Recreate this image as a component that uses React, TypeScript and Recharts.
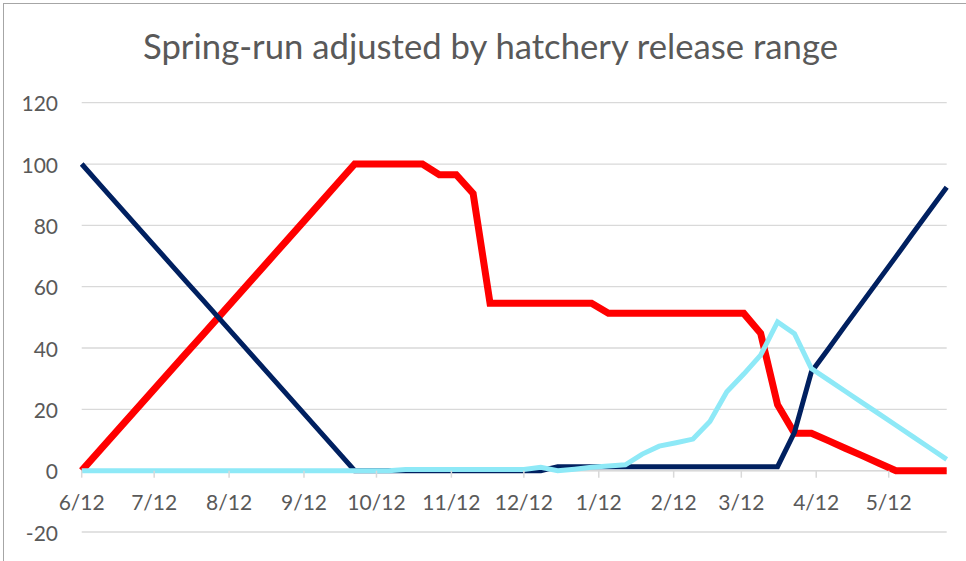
import { CartesianGrid, Line, LineChart, ReferenceLine, XAxis, YAxis } from "recharts";

// days after 6/12 for each weekly point
const DAYS = [
  0, 8, 15, 22, 29, 36, 43, 50, 57, 64, 71, 78, 85, 92, 99, 106, 113, 120, 127,
  134, 141, 148, 155, 162, 169, 176, 183, 190, 197, 204, 211, 218, 225, 232,
  239, 246, 253, 260, 267, 274, 281, 288, 295, 302, 309, 316, 323, 330, 337,
  344, 351, 358,
];

const RED = [
  0, 7.1, 13.3, 19.5, 25.7, 31.9, 38.1, 44.2, 50.4, 56.6, 62.8, 69.0, 75.2,
  81.4, 87.6, 93.8, 100, 100, 100, 100, 100, 96.5, 96.5, 90.4, 54.6, 54.6,
  54.6, 54.6, 54.6, 54.6, 54.6, 51.3, 51.3, 51.3, 51.3, 51.3, 51.3, 51.3, 51.3,
  51.3, 44.8, 21.5, 12.2, 12.2, 9.8, 7.3, 4.9, 2.4, 0, 0, 0, 0,
];

const NAVY = [
  100, 92.9, 86.7, 80.5, 74.3, 68.1, 61.9, 55.8, 49.6, 43.4, 37.2, 31.0, 24.8,
  18.6, 12.4, 6.2, 0, 0, 0, 0, 0, 0, 0, 0, 0, 0, 0, 0, 1.3, 1.3, 1.3, 1.3,
  1.3, 1.3, 1.3, 1.3, 1.3, 1.3, 1.3, 1.3, 1.3, 1.3, 12.5, 32.2, 39.7, 47.3,
  54.8, 62.3, 69.8, 77.4, 84.9, 92.4,
];

const CYAN = [
  0, 0, 0, 0, 0, 0, 0, 0, 0, 0, 0, 0, 0, 0, 0, 0, 0, 0, 0, 0.4, 0.4, 0.4, 0.4,
  0.4, 0.4, 0.4, 0.4, 1.1, 0, 0.5, 1.1, 1.5, 1.9, 5.4, 8.0, 9.1, 10.3, 16,
  25.7, 31.5, 37.7, 48.5, 44.7, 33.3, 29.6, 25.9, 22.2, 18.5, 14.8, 11.1, 7.4,
  3.7,
];

const TICK_DAYS = [0, 30, 61, 92, 122, 153, 183, 214, 245, 273, 304, 334];
const TICK_LABELS = [
  "6/12", "7/12", "8/12", "9/12", "10/12", "11/12",
  "12/12", "1/12", "2/12", "3/12", "4/12", "5/12",
];
const Y_TICKS = [-20, 0, 20, 40, 60, 80, 100, 120];

const TITLE = "Spring-run adjusted by hatchery release range";

const data = DAYS.map((day, i) => ({
  day,
  red: RED[i],
  navy: NAVY[i],
  cyan: CYAN[i],
}));

const W = 966;
const H = 561;
const TOP = 102.7;
const BOTTOM = 532;
const ZERO_Y = TOP + (120 / 140) * (BOTTOM - TOP);
const FONT = "Lato, 'Open Sans', sans-serif";
const TEXT = "#595959";
const GRID = "#d9d9d9";

const XTick = ({ x, payload }: any) => {
  const idx = TICK_DAYS.indexOf(payload.value);
  return (
    <g>
      <line x1={x} x2={x} y1={ZERO_Y} y2={ZERO_Y + 7} stroke={GRID} strokeWidth={1.5} />
      <text
        x={x}
        y={ZERO_Y + 31}
        textAnchor="middle"
        dominantBaseline="central"
        fill={TEXT}
        fontSize={21}
        fontFamily={FONT}
      >
        {TICK_LABELS[idx]}
      </text>
    </g>
  );
};

const YTick = ({ y, payload }: any) => (
  <text
    x={58}
    y={y}
    textAnchor="end"
    dominantBaseline="central"
    fill={TEXT}
    fontSize={21}
    fontFamily={FONT}
  >
    {payload.value}
  </text>
);

export default function App() {
  return (
    <div
      style={{
        position: "absolute",
        left: 0,
        top: 0,
        width: W,
        height: H,
        overflow: "hidden",
        background: "#fff",
      }}
    >
      <div
        style={{
          position: "absolute",
          left: 3,
          top: 3,
          width: 1000,
          height: 600,
          border: "1px solid #a6a6a6",
        }}
      />
      <svg
        width={W}
        height={90}
        style={{ position: "absolute", left: 0, top: 0 }}
      >
        <text
          x={490.5}
          y={59}
          textAnchor="middle"
          fill={TEXT}
          fontSize={34}
          fontFamily={FONT}
          textLength={695}
          lengthAdjust="spacingAndGlyphs"
        >
          {TITLE}
        </text>
      </svg>
      <div style={{ position: "absolute", left: 0, top: 0 }}>
        <LineChart
          width={W}
          height={H}
          data={data}
          margin={{ top: TOP, right: W - 946.7, bottom: H - BOTTOM - 1, left: 11.7 }}
        >
          <CartesianGrid vertical={false} stroke={GRID} strokeWidth={1.3} />
          <XAxis
            dataKey="day"
            type="number"
            domain={[0, 358]}
            ticks={TICK_DAYS}
            interval={0}
            axisLine={false}
            tickLine={false}
            tick={<XTick />}
            height={1}
          />
          <YAxis
            domain={[-20, 120]}
            ticks={Y_TICKS}
            interval={0}
            axisLine={false}
            tickLine={false}
            tick={<YTick />}
            width={70}
          />
          <ReferenceLine y={0} stroke={GRID} strokeWidth={1.5} />
          <Line
            dataKey="red"
            stroke="#ff0000"
            strokeWidth={7}
            dot={false}
            isAnimationActive={false}
            strokeLinejoin="miter"
          />
          <Line
            dataKey="navy"
            stroke="#002060"
            strokeWidth={5}
            dot={false}
            isAnimationActive={false}
            strokeLinejoin="miter"
          />
          <Line
            dataKey="cyan"
            stroke="#8ee9f7"
            strokeWidth={5}
            dot={false}
            isAnimationActive={false}
            strokeLinejoin="miter"
          />
        </LineChart>
      </div>
    </div>
  );
}
